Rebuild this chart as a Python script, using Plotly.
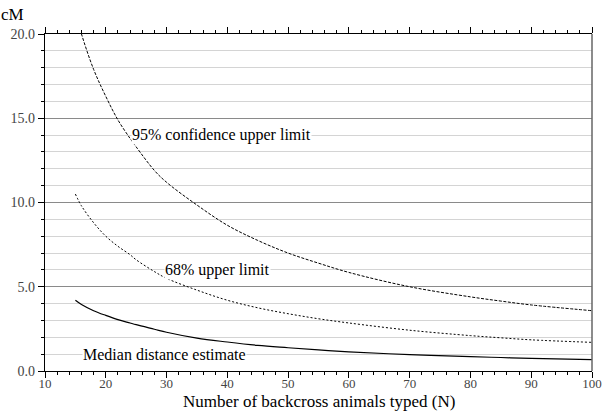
import plotly.graph_objects as go

N = [15, 16, 18, 20, 22, 24, 25, 28, 30, 35, 40, 45, 50, 55, 60, 70, 80, 85, 90, 100]
upper95 = [21.3, 20.0, 17.9, 16.3, 14.9, 13.8, 13.3, 11.9, 11.2, 9.85, 8.65, 7.75, 7.0, 6.4, 5.85, 5.0, 4.4, 4.15, 3.92, 3.58]
upper68 = [10.5, 9.8, 8.8, 8.0, 7.4, 6.9, 6.6, 5.9, 5.5, 4.8, 4.2, 3.75, 3.4, 3.1, 2.85, 2.42, 2.1, 1.97, 1.85, 1.7]
median = [4.2, 3.95, 3.58, 3.3, 3.05, 2.85, 2.75, 2.48, 2.3, 1.95, 1.72, 1.52, 1.38, 1.25, 1.14, 0.97, 0.85, 0.8, 0.75, 0.67]

labels = ["95% confidence upper limit", "68% upper limit", "Median distance estimate"]
label_x = [39, 38.4, 29.6]
label_y = [14, 6, 1]

FONT = "Liberation Serif, Times New Roman, serif"

fig = go.Figure()
fig.add_trace(go.Scatter(x=N, y=upper95, mode="lines", line=dict(color="black", width=1, dash="3px,1.5px", shape="spline")))
fig.add_trace(go.Scatter(x=N, y=upper68, mode="lines", line=dict(color="black", width=1, dash="2px,2px", shape="spline")))
fig.add_trace(go.Scatter(x=N, y=median, mode="lines", line=dict(color="black", width=1.2, shape="spline")))

for t, x, y in zip(labels, label_x, label_y):
    fig.add_annotation(x=x, y=y, text=t, showarrow=False, bgcolor="white",
                       font=dict(family=FONT, size=16, color="black"), borderpad=0)

fig.add_annotation(xref="paper", yref="paper", x=-0.06, y=1.0, yshift=8, xanchor="center", yanchor="bottom",
                   text="cM", showarrow=False, font=dict(family=FONT, size=17, color="black"))

fig.add_annotation(xref="paper", yref="paper", x=0.5, y=0, yshift=-41, xanchor="center", yanchor="bottom",
                   text="Number of backcross animals typed (N)", showarrow=False, borderpad=0,
                   font=dict(family=FONT, size=17, color="black"))

fig.add_shape(type="line", xref="paper", yref="paper", x0=1, x1=1, y0=0, y1=1,
              line=dict(color="#666", width=1.5))

fig.update_layout(
    width=603, height=412,
    margin=dict(l=45, r=11, t=34, b=41),
    plot_bgcolor="white", paper_bgcolor="white",
    showlegend=False,
    xaxis=dict(range=[10, 100], tick0=10, dtick=10, showgrid=False, zeroline=False, automargin=False,
               showline=True, linecolor="black", linewidth=1.2, mirror="ticks",
               ticks="outside", ticklen=6, tickcolor="black", ticklabelstandoff=-6,
               minor=dict(dtick=2, ticks="outside", ticklen=3, tickcolor="black", showgrid=False),
               tickfont=dict(family=FONT, size=13, color="#444")),
    yaxis=dict(range=[0, 20], tick0=0, dtick=5, tickformat=".1f", zeroline=False, automargin=False,
               showgrid=True, gridcolor="#8a8a8a", gridwidth=1,
               showline=True, linecolor="black", linewidth=1.2,
               ticks="outside", ticklen=6, tickcolor="black",
               minor=dict(dtick=1, ticks="outside", ticklen=3, tickcolor="black",
                          showgrid=True, gridcolor="#d4d4d4", gridwidth=1),
               tickfont=dict(family=FONT, size=14, color="#444")),
)

fig.write_html("out.html", config={"displayModeBar": False},
               post_script="document.body.style.margin='0';document.body.style.overflow='hidden';")
